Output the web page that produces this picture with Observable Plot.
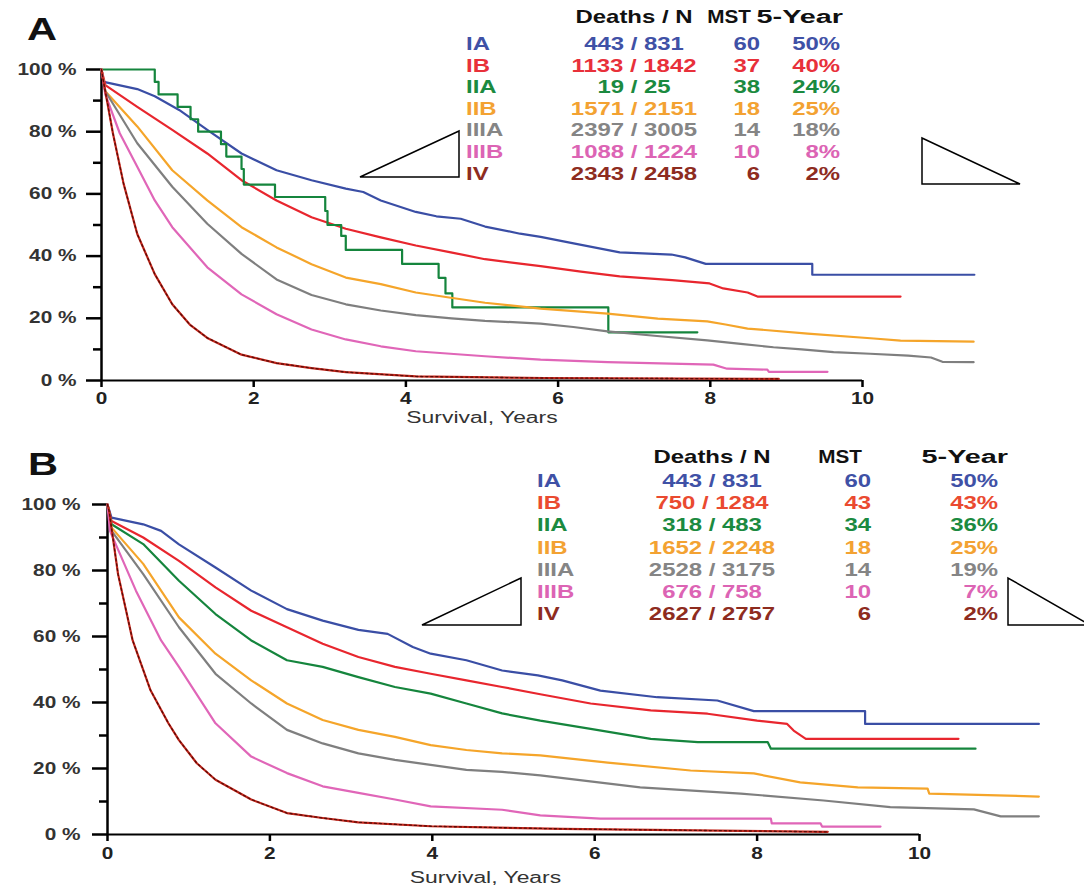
<!DOCTYPE html>
<html><head><meta charset="utf-8">
<script src="https://cdn.jsdelivr.net/npm/d3@7"></script>
<script src="https://cdn.jsdelivr.net/npm/@observablehq/plot@0.6"></script>
<style>
body{margin:0;background:#fff;width:1084px;height:893px;overflow:hidden;position:relative;font-family:"Liberation Sans",Arial,sans-serif;}
#pa,#pb{position:absolute;left:0;}
#pa{top:0}#pb{top:440px}
#overlay{position:absolute;left:0;top:0;}
</style></head><body>
<div id="pa"></div><div id="pb"></div>
<svg id="overlay" width="1084" height="893"></svg>
<script>
// ---- categories & styling keys ----
const stages = ["IA","IB","IIA","IIB","IIIA","IIIB","IV"];
const stageColors = ["#3a4ea5","#e8262e","#15853d","#f5a52a","#7f7f7f","#e066b8","#c4261c"];
const textColorsA = ["#3f51a6","#e8303a","#1b8a40","#f3a232","#858585","#dc64b4","#8e2c1f"];
const textColorsB = ["#3f51a6","#ea4a30","#1b8a40","#f3a232","#858585","#dc64b4","#8e2c1f"];
const yMajor = [0,20,40,60,80,100];
const yMinor = [10,30,50,70,90];
const xTicks = [0,2,4,6,8,10];
const xLabel = "Survival, Years";

// ---- table values ----
const headerDeaths = "Deaths / N", headerMST = "MST", header5 = "5-Year";
const deathsA = ["443 / 831","1133 / 1842","19 / 25","1571 / 2151","2397 / 3005","1088 / 1224","2343 / 2458"];
const mstA = [60,37,38,18,14,10,6];
const fiveYrA = ["50%","40%","24%","25%","18%","8%","2%"];
const deathsB = ["443 / 831","750 / 1284","318 / 483","1652 / 2248","2528 / 3175","676 / 758","2627 / 2757"];
const mstB = [60,43,34,18,14,10,6];
const fiveYrB = ["50%","43%","36%","25%","19%","7%","2%"];

// ---- survival curves, panel A: [years, survival %] ----
const A_IA = [[0,100],[0.03,96],[0.47,93.7],[0.7,91.4],[1.02,87],[1.39,80.6],[1.84,73],[2.3,67.6],[2.76,64.4],[3.21,61.7],[3.44,60.6],[3.67,57.9],[4.13,54.2],[4.4,52.8],[4.72,52],[5.04,49.5],[5.5,47.2],[5.77,46.2],[6.22,44],[6.81,41.2],[7.49,40.5],[7.67,39.6],[7.94,37.5],[9.34,37.5],[9.34,34],[11.47,34]];
const A_IB = [[0,100],[0.05,95],[0.47,88],[0.93,80.6],[1.39,73],[1.84,64.4],[2.3,57.9],[2.76,52.5],[3.21,48.8],[3.67,46],[4.13,43.4],[4.59,41.2],[5.04,39],[5.5,37.6],[5.77,36.8],[6.3,35],[6.81,33.5],[7.5,32.3],[7.99,31.2],[8.17,29.6],[8.49,28.3],[8.62,27],[10.5,27]];
const A_IIA = [[0,100],[0.70,96],[0.75,92],[1.00,88],[1.17,84],[1.27,80],[1.57,76],[1.64,72],[1.84,68],[1.87,63],[2.28,59],[2.94,54.5],[2.97,50],[3.15,46.5],[3.21,42],[3.95,37.5],[4.43,33],[4.52,28],[4.61,23.5],[6.66,15.5],[7.83,15.5]];
const A_IIB = [[0,100],[0.05,93],[0.47,81.7],[0.93,67.6],[1.39,57.9],[1.84,49.3],[2.3,42.8],[2.76,37.4],[3.21,33.1],[3.67,31],[4.13,28.3],[4.59,26.6],[5.04,25],[5.77,23.1],[6.65,21.5],[7.31,19.9],[7.96,19],[8.2,18],[8.49,16.7],[9.28,15.1],[10.15,13.5],[10.5,12.8],[11.46,12.5]];
const A_IIIA = [[0,100],[0.05,93],[0.47,76.3],[0.93,62.3],[1.39,50.4],[1.84,40.7],[2.3,32.5],[2.76,27.5],[3.21,24.5],[3.67,22.5],[4.13,21],[4.6,20],[5.04,19.2],[5.77,18.3],[6.2,17.2],[6.65,15.8],[7.3,14.3],[7.96,12.9],[8.4,11.8],[8.83,10.7],[9.2,10],[9.62,9.1],[10.1,8.6],[10.6,8],[10.9,7.4],[11.05,6],[11.46,5.9]];
const A_IIIB = [[0,100],[0.05,92],[0.24,79.5],[0.47,68.7],[0.7,57.9],[0.93,49.3],[1.39,36.4],[1.84,27.7],[2.3,21.3],[2.76,16.4],[3.21,13.2],[3.67,11],[4.13,9.4],[5.04,7.8],[5.77,6.7],[6.65,5.9],[8.04,5.1],[8.22,3.8],[8.75,3.5],[8.77,2.8],[9.54,2.8]];
const A_IV = [[0,100],[0.02,97],[0.15,79.5],[0.29,63.3],[0.47,47.1],[0.7,34.2],[0.93,24.5],[1.16,18],[1.39,13.7],[1.84,8.3],[2.3,5.6],[2.76,4],[3.21,2.7],[4.13,1.3],[5.81,0.8],[8.9,0.5]];

// ---- survival curves, panel B ----
const B_IA = [[0,100],[0.05,96],[0.44,94],[0.66,92],[0.88,87.9],[1.33,80.9],[1.77,73.9],[2.21,68.3],[2.65,64.8],[3.09,62],[3.45,60.8],[3.76,56.8],[3.98,54.8],[4.42,52.8],[4.86,49.7],[5.3,48.2],[5.6,46.7],[6.07,43.6],[6.77,41.6],[7.51,40.6],[7.96,37.4],[9.33,37.4],[9.33,33.5],[11.47,33.5]];
const B_IB = [[0,100],[0.05,95],[0.44,90],[0.88,82.9],[1.33,74.9],[1.77,67.8],[2.21,62.8],[2.65,57.8],[3.09,53.8],[3.54,50.8],[3.98,48.7],[4.42,46.7],[4.86,44.7],[5.33,42.5],[5.95,39.7],[6.69,37.6],[7.39,36.6],[8.0,34.5],[8.37,33.5],[8.45,31.5],[8.6,29],[10.48,29]];
const B_IIA = [[0,100],[0.05,94],[0.44,88],[0.88,76.9],[1.33,66.8],[1.77,58.8],[2.21,52.8],[2.65,50.8],[3.09,47.7],[3.54,44.7],[3.98,42.7],[4.42,39.7],[4.86,36.7],[5.33,34.5],[5.95,32],[6.69,29],[7.27,28],[8.13,28],[8.17,26],[10.69,26]];
const B_IIB = [[0,100],[0.05,93],[0.44,82],[0.88,65.8],[1.33,54.8],[1.77,46.7],[2.21,39.7],[2.65,34.7],[3.09,31.7],[3.54,29.6],[3.98,27.1],[4.42,25.6],[4.86,24.6],[5.33,24],[6.16,21.8],[7.18,19.4],[7.96,18.5],[8.53,15.8],[9.24,14.3],[10.1,13.9],[10.12,12.4],[11.08,11.8],[11.47,11.5]];
const B_IIIA = [[0,100],[0.05,92],[0.44,78.9],[0.88,62.8],[1.33,48.7],[1.77,39.7],[2.21,31.7],[2.65,27.6],[3.09,24.6],[3.54,22.6],[3.98,21.1],[4.42,19.6],[4.86,19],[5.33,17.9],[6.56,14.3],[7.8,12.4],[8.82,10.3],[9.64,8.3],[10.67,7.6],[11.0,5.5],[11.47,5.5]];
const B_IIIB = [[0,100],[0.03,92],[0.35,73.9],[0.66,58.8],[0.88,50.8],[1.33,33.7],[1.77,23.6],[2.21,18.6],[2.65,14.6],[3.09,12.6],[3.54,10.6],[3.98,8.5],[4.86,7.5],[5.33,5.8],[6.07,4.8],[8.17,4.8],[8.18,3.4],[8.78,3.4],[8.8,2.4],[9.52,2.4]];
const B_IV = [[0,100],[0.02,98],[0.13,78.9],[0.31,58.8],[0.53,43.7],[0.75,33.7],[0.88,28.6],[1.1,21.6],[1.33,16.6],[1.77,10.6],[2.21,6.5],[2.65,5],[3.09,3.7],[3.98,2.5],[5.6,1.7],[8.87,0.8]];

const curvesA = [A_IA, A_IB, A_IIA, A_IIB, A_IIIA, A_IIIB, A_IV];
const curvesB = [B_IA, B_IB, B_IIA, B_IIB, B_IIIA, B_IIIB, B_IV];
const stepStages = { A: ["IIA"], B: [] };

function stretchTexts(svg, k, kLabel) {
  svg.querySelectorAll("text").forEach(t => {
    const kk = t.textContent === xLabel ? kLabel : k;
    const x = +(t.getAttribute("x") || 0);
    const tr = t.getAttribute("transform") || "";
    t.setAttribute("transform", `${tr} translate(${x},0) scale(${kk},1) translate(${-x},0)`);
  });
}

function makePanel(curves, steps, o) {
  const marks = [
    Plot.axisY({ticks: yMajor, tickSize: 15, tickPadding: o.yPad, tickFormat: d => d + " %", fontSize: 16, fill: "#333", stroke: "#000", strokeWidth: 2.5, label: null}),
    Plot.axisY({ticks: yMinor, tickSize: 8, tickFormat: () => "", stroke: "#000", strokeWidth: 2.5, label: null}),
    Plot.axisX({ticks: xTicks, tickSize: 7, tickPadding: o.xPad, fontSize: 16, fill: "#222", stroke: "#000", strokeWidth: 2.5, label: null}),
    Plot.ruleX([0], {stroke: "#000", strokeWidth: 2.5}),
    Plot.ruleY([0], {stroke: "#000", strokeWidth: 2})
  ];
  curves.forEach((c, i) => {
    const isStep = steps.includes(stages[i]);
    marks.push(Plot.line(c, {x: d => d[0], y: d => d[1], stroke: stageColors[i], strokeWidth: 2.2, curve: isStep ? "step-after" : "linear"}));
    if (stages[i] === "IV") {
      marks.push(Plot.line(c, {x: d => d[0], y: d => d[1], stroke: "#5a0c06", strokeWidth: 1.3, strokeDasharray: "2,3"}));
    }
  });
  marks.push(Plot.text([xLabel], {frameAnchor: "bottom", dx: o.labelDx, dy: o.labelDy, fontSize: 16, fontWeight: "normal", fill: "#333"}));
  const svg = Plot.plot({
    width: 1084, height: o.height,
    marginLeft: o.ml, marginRight: o.mr, marginTop: o.mt, marginBottom: o.mb,
    x: {domain: [0, 10]}, y: {domain: [0, 100]},
    style: {fontFamily: "'Liberation Sans', Arial, sans-serif", fontWeight: "bold", background: "transparent", overflow: "visible"},
    marks
  });
  stretchTexts(svg, 1.3, 1.43);
  return svg;
}

document.getElementById("pa").appendChild(makePanel(curvesA, stepStages.A, {height: 440, ml: 101, mr: 222, mt: 69, mb: 60, yPad: 10, xPad: 5, labelDx: 0, labelDy: 42}));
document.getElementById("pb").appendChild(makePanel(curvesB, stepStages.B, {height: 453, ml: 107, mr: 165, mt: 64, mb: 59, yPad: 12, xPad: 6, labelDx: -28, labelDy: 48}));

// ---- overlay: panel letters, tables, triangles ----
const ov = d3.select("#overlay");
function addText(x, y, str, opt) {
  ov.append("text")
    .attr("transform", `translate(${x},${y}) scale(${opt.k || 1.33},1)`)
    .attr("text-anchor", opt.anchor || "start")
    .attr("font-family", "'Liberation Sans', Arial, sans-serif")
    .attr("font-weight", "bold")
    .attr("font-size", opt.size || 18)
    .attr("fill", opt.fill || "#111")
    .text(str);
}
addText(27, 40, "A", {size: 32, k: 1.3});
addText(28, 475, "B", {size: 32, k: 1.3});

function table(t) {
  addText(t.deathsX, t.headerY, headerDeaths, {anchor: "middle"});
  addText(t.mstX, t.headerY, headerMST, {anchor: "end", k: 1.15});
  addText(t.fiveHX, t.headerY, header5, {anchor: "end", k: 1.6});
  stages.forEach((s, i) => {
    const y = t.rowY + i * t.rowStep;
    const fill = t.colors[i];
    addText(t.stageX, y, s, {fill});
    addText(t.deathsX, y, t.deaths[i], {anchor: "middle", fill});
    addText(t.mstValX, y, String(t.mst[i]), {anchor: "end", fill});
    addText(t.fiveX, y, t.five[i], {anchor: "end", fill});
  });
}
table({headerY: 23, rowY: 50, rowStep: 21.6, stageX: 466, deathsX: 634, mstX: 751, mstValX: 760, fiveX: 840, fiveHX: 843, deaths: deathsA, mst: mstA, five: fiveYrA, colors: textColorsA});
table({headerY: 463, rowY: 487, rowStep: 22.2, stageX: 537, deathsX: 712, mstX: 862, mstValX: 871, fiveX: 998, fiveHX: 1008, deaths: deathsB, mst: mstB, five: fiveYrB, colors: textColorsB});

const triangles = [
  [[360,177],[459,131],[459,177]],
  [[922,138],[922,184],[1020,184]],
  [[422,625],[521,578],[521,625]],
  [[1008,578],[1008,625],[1090,625]]
];
triangles.forEach(p => ov.append("polygon").attr("points", p.map(q => q.join(",")).join(" ")).attr("fill", "#fff").attr("stroke", "#000").attr("stroke-width", 1.5));
</script>
</body></html>
